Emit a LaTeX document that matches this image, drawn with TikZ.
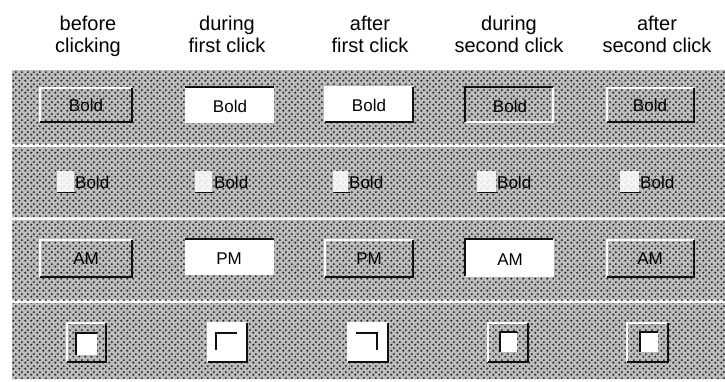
\documentclass[tikz,border=0pt]{standalone}
\usepackage{fontspec}
\setmainfont{Liberation Sans}
\usetikzlibrary{patterns.meta}
\definecolor{dith}{HTML}{BDBDBD}
\definecolor{dotc}{HTML}{2E2E2E}
\definecolor{shade}{HTML}{101010}
\tikzdeclarepattern{name=dither, type=uncolored,
  bounding box={(0pt,0pt) and (6pt,6pt)}, tile size={(6pt,6pt)},
  code={\fill (1.5pt,1.5pt) circle (1.35pt); \fill (4.5pt,4.5pt) circle (1.35pt);}}
\tikzset{
  dithered/.style={fill=dith, postaction={pattern=dither, pattern color=dotc}},
  hilite/.style={draw=white, line width=1.6pt},
  darkln/.style={draw=shade, line width=2pt},
  thinln/.style={draw=shade, line width=1.4pt},
  headtxt/.style={font=\fontsize{20}{22}\selectfont, anchor=base, inner sep=0pt},
  btntxt/.style={font=\fontsize{17}{19}\selectfont, inner sep=0pt},
  itemtxt/.style={font=\fontsize{17}{19}\selectfont, anchor=west, inner sep=0pt},
  smallbox/.style={fill=white, fill opacity=0.85}
}
% raised: #1 x1, #2 y1, #3 x2, #4 y2
\newcommand\raisedbtn[4]{%
  \draw[hilite] (#1,#4) -- (#1,#2) -- (#3,#2);
  \draw[darkln] (#1,#4) -- (#3,#4) -- (#3,#2);}
\newcommand\sunkbtn[4]{%
  \draw[hilite] (#1,#4) -- (#3,#4) -- (#3,#2);
  \draw[darkln] (#1,#4) -- (#1,#2) -- (#3,#2);}
\newcommand\topsunk[4]{%
  \draw[darkln] (#1,#2) -- (#3,#2);}
\begin{document}
\begin{tikzpicture}[x=1pt,y=-1pt]
\useasboundingbox (0,0) rectangle (725,381);
\fill[white] (0,0) rectangle (725,381);
% bands
\path[dithered] (12,70) rectangle (725,144);
\path[dithered] (12,147) rectangle (725,217);
\path[dithered] (12,220) rectangle (725,300);
\path[dithered] (12,303) rectangle (725,379);
% headers
\node[headtxt] (h1a) at (88,30) {before};
\node[headtxt] (h1b) at (88,52) {clicking};
\node[headtxt] (h2a) at (227,30) {during};
\node[headtxt] (h2b) at (227,52) {first click};
\node[headtxt] (h3a) at (370,30) {after};
\node[headtxt] (h3b) at (370,52) {first click};
\node[headtxt] (h4a) at (509,30) {during};
\node[headtxt] (h4b) at (509,52) {second click};
\node[headtxt] (h5a) at (657,30) {after};
\node[headtxt] (h5b) at (657,52) {second click};
% row 1
\raisedbtn{40}{88}{132}{122}
\node[btntxt] (b1) at (86,105) {Bold};
\fill[white] (185,87) rectangle (274,123);
\topsunk{185}{87}{274}{123}
\node[btntxt] (b2) at (230,106) {Bold};
\fill[white] (325,87) rectangle (413,122);
\raisedbtn{325}{87}{413}{122}
\node[btntxt] (b3) at (369,105) {Bold};
\sunkbtn{465}{87}{553}{122}
\node[btntxt] (b4) at (510,106) {Bold};
\raisedbtn{607}{88}{694}{122}
\node[btntxt] (b5) at (650,105) {Bold};
% row 2
\fill[smallbox] (57,171) rectangle (74,192);
\draw[thinln] (57,192.5) -- (76,192.5);
\node[itemtxt] (c1) at (75,182) {Bold};
\fill[smallbox] (195,171) rectangle (212,192);
\draw[thinln] (195,192.5) -- (214,192.5);
\node[itemtxt] (c2) at (214,182) {Bold};
\fill[smallbox] (333,171) rectangle (348,192);
\draw[thinln] (333,192.5) -- (350,192.5);
\node[itemtxt] (c3) at (349,182) {Bold};
\fill[smallbox] (477,171) rectangle (496,192);
\draw[thinln] (477,192.5) -- (498,192.5);
\node[itemtxt] (c4) at (497,182) {Bold};
\fill[smallbox] (620,171) rectangle (639,192);
\draw[thinln] (620,192.5) -- (641,192.5);
\node[itemtxt] (c5) at (640,182) {Bold};
% row 3
\raisedbtn{40}{240}{132}{277}
\node[btntxt] (d1) at (86,259) {AM};
\fill[white] (185,239) rectangle (274,275);
\topsunk{185}{239}{274}{275}
\node[btntxt] (d2) at (229,259) {PM};
\raisedbtn{325}{240}{413}{277}
\node[btntxt] (d3) at (369,259) {PM};
\fill[white] (465,239) rectangle (553,276);
\sunkbtn{465}{239}{553}{276}
\node[btntxt] (d4) at (510,260) {AM};
\raisedbtn{607}{240}{694}{277}
\node[btntxt] (d5) at (650,259) {AM};
% row 4
\raisedbtn{67}{323}{106}{362}
\fill[white] (76,333) rectangle (97,355);
\draw[darkln] (76,355) -- (76,333) -- (97,333);
\fill[white] (208,323) rectangle (247,362);
\raisedbtn{208}{323}{247}{362}
\draw[darkln] (216,350) -- (216,333) -- (237,333);
\fill[white] (348,323) rectangle (388,362);
\raisedbtn{348}{323}{388}{362}
\draw[darkln] (356,333) -- (377,333) -- (377,350);
\raisedbtn{488}{323}{528}{362}
\fill[white] (500,332) rectangle (517,352);
\draw[thinln] (500,352) -- (500,332) -- (517,332);
\raisedbtn{627}{323}{668}{362}
\fill[white] (640,332) rectangle (658,352);
\draw[thinln] (640,352) -- (640,332) -- (658,332);
\end{tikzpicture}
\end{document}
